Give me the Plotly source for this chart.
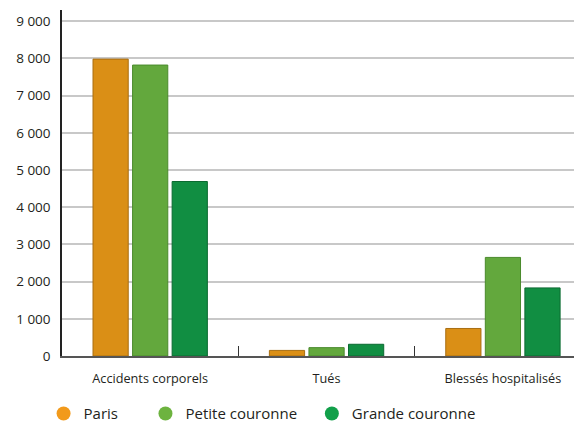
import plotly.graph_objects as go

categories = ["Accidents corporels", "Tués", "Blessés hospitalisés"]
paris = [7980, 150, 740]
petite_couronne = [7820, 225, 2650]
grande_couronne = [4690, 315, 1830]

series = [
    ("Paris", paris, "#DA8F16", "#A86E12", "#F29A1B"),
    ("Petite couronne", petite_couronne, "#63A83D", "#4A8A2C", "#6DB33F"),
    ("Grande couronne", grande_couronne, "#118E42", "#0B6A31", "#12A04A"),
]

font_family = "Open Sans, Liberation Sans, sans-serif"
text_color = "#231F20"

fig = go.Figure()
legend_names = ["legend", "legend2", "legend3"]
for (name, values, fill, edge, dot), lg in zip(series, legend_names):
    fig.add_trace(go.Bar(
        x=categories, y=values, name=name, showlegend=False,
        marker=dict(color=fill, line=dict(color=edge, width=1)),
    ))
    # legend entry drawn as a round marker
    fig.add_trace(go.Scatter(
        x=[None], y=[None], mode="markers", name=name, legend=lg,
        marker=dict(color=dot, size=14, symbol="circle"),
    ))

legend_style = dict(
    orientation="h", yref="container", yanchor="middle", y=0.022,
    xanchor="left",
    font=dict(family=font_family, size=15, color=text_color),
    bgcolor="rgba(0,0,0,0)", itemwidth=30,
)

fig.update_layout(
    width=574, height=423,
    margin=dict(l=62, r=0, t=10, b=67),
    paper_bgcolor="white", plot_bgcolor="white",
    separators=", ",
    barmode="group", bargap=0.327, bargroupgap=0.11,
    font=dict(family=font_family, size=12, color=text_color),
    legend=dict(legend_style, x=-0.036),
    legend2=dict(legend_style, x=0.163),
    legend3=dict(legend_style, x=0.488),
    xaxis=dict(
        range=[-0.5, 2.403], showgrid=False, showline=True,
        linecolor="#555555", linewidth=1.5, automargin=False,
        ticks="inside", tickson="boundaries", ticklen=10,
        tickcolor="#333333", tickwidth=1,
        ticklabelstandoff=10,
        tickfont=dict(size=12.7, color=text_color),
    ),
    yaxis=dict(
        range=[0, 9300], tickvals=list(range(0, 9001, 1000)),
        tickformat=",d", showgrid=True, gridcolor="#C8C8C8", gridwidth=1.5,
        showline=True, linecolor="#222222", linewidth=1.5,
        zeroline=False, ticks="", ticklabelstandoff=7, automargin=False,
        tickfont=dict(size=13.5, color=text_color),
    ),
)

fig.write_html("out.html")
